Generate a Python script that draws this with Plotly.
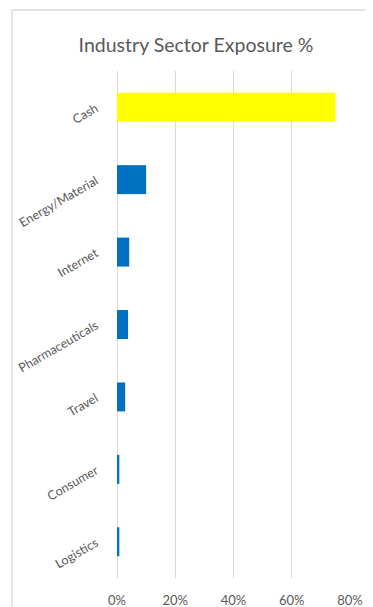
import plotly.graph_objects as go

sectors = ["Cash", "Energy/Material", "Internet", "Pharmaceuticals", "Travel", "Consumer", "Logistics"]
exposure = [0.75, 0.10, 0.042, 0.038, 0.028, 0.008, 0.008]
bar_colors = ["#FFFF00", "#0070C0", "#0070C0", "#0070C0", "#0070C0", "#0070C0", "#0070C0"]
tick_vals = [0, 0.2, 0.4, 0.6, 0.8]
tick_text = ["0%", "20%", "40%", "60%", "80%"]

fig = go.Figure(go.Bar(
    x=exposure, y=sectors, orientation="h",
    marker=dict(color=bar_colors, line=dict(width=0)),
    width=0.4,
))

# page has an 8px body margin: figure sits at (8, 8)
OFF = 8
W, H = 373 - OFF, 607 - OFF
L, R, T, B = 109, 23, 63, 29
pw, ph = W - L - R, H - T - B

def px_to_paper_x(p):
    return (p - OFF - L) / pw

def px_to_paper_y(p):
    return (H - B - (p - OFF)) / ph

fig.update_layout(
    width=W, height=H,
    margin=dict(l=L, r=R, t=T, b=B, autoexpand=False),
    paper_bgcolor="white", plot_bgcolor="white",
    font=dict(family="Lato, Open Sans, sans-serif", color="#595959"),
    title=dict(text="Industry Sector Exposure %", x=188 / W, xanchor="center",
               y=1 - 37 / H, yanchor="middle",
               font=dict(size=19.5, color="#595959")),
    showlegend=False,
    xaxis=dict(range=[0, 0.8], tickvals=tick_vals, ticktext=tick_text,
               showgrid=True, gridcolor="#d9d9d9", gridwidth=1.3,
               zeroline=True, zerolinecolor="#d9d9d9", zerolinewidth=1.3,
               showline=False, ticks="", tickfont=dict(size=13, color="#595959"),
               ticklabelstandoff=13, automargin=False, fixedrange=True),
    yaxis=dict(autorange="reversed", showgrid=False, zeroline=False,
               showline=False, ticks="", tickangle=-30, automargin=False,
               tickfont=dict(size=12.5, color="#595959"), ticklabelstandoff=20),
    shapes=[dict(type="rect", xref="paper", yref="paper",
                 x0=px_to_paper_x(12), x1=px_to_paper_x(373 + 20),
                 y0=px_to_paper_y(607 + 20), y1=px_to_paper_y(10),
                 line=dict(color="#d9d9d9", width=1.3), fillcolor="rgba(0,0,0,0)",
                 layer="below")],
)

fig.write_html("out.html")
